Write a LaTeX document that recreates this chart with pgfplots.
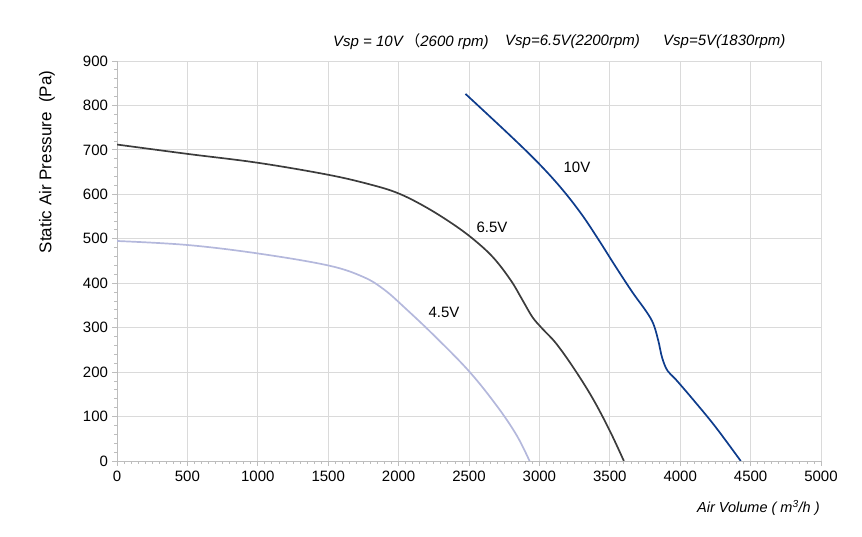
\documentclass[border=0pt]{standalone}
\usepackage{fontspec}
\setmainfont{Liberation Sans}
\newfontfamily\cjk{Noto Sans CJK SC}
\usepackage{pgfplots}
\pgfplotsset{compat=1.18}
\definecolor{navy}{HTML}{0E3C8C}
\definecolor{dgray}{HTML}{3C3C3C}
\definecolor{lav}{HTML}{B4B8DC}
\definecolor{gridc}{HTML}{DADADA}
\definecolor{axc}{HTML}{BDBDBD}
\begin{document}
\begin{tikzpicture}[x=1pt,y=1pt]
\path (0,0) rectangle (862,537);
\begin{axis}[
  at={(117pt,76pt)}, anchor=south west,
  scale only axis, width=704pt, height=400pt,
  xmin=0, xmax=5000, ymin=0, ymax=900,
  xtick={0,500,...,5000}, ytick={0,100,...,900},
  minor x tick num=9, minor y tick num=4,
  grid=major, major grid style={gridc, line width=0.9pt},
  axis line style={axc, line width=0.9pt},
  axis x line*=bottom, axis y line*=left,
  tick style={axc, line width=0.8pt},
  tick align=outside,
  major tick length=5pt, minor tick length=3pt,
  tick label style={font=\fontsize{15}{16}\selectfont, black},
  /pgf/number format/assume math mode=true,
  /pgf/number format/set thousands separator={},
  xticklabel style={yshift=-1pt},
  yticklabel style={xshift=-0.5pt},
]
\addplot[lav, line width=1.7pt, smooth, tension=0.6] coordinates {
(0,495) (500,486) (1000,467) (1500,440) (1750,414) (1900,385) (2050,343)
(2250,283) (2500,202) (2700,123) (2840,57) (2930,0)};
\addplot[dgray, line width=1.7pt, smooth, tension=0.6] coordinates {
(0,712) (500,691) (1000,671) (1500,644) (1800,622) (2000,602) (2200,570)
(2400,530) (2550,494) (2680,455) (2800,405) (2880,362) (2950,324) (3020,298)
(3120,264) (3250,206) (3380,140) (3500,68) (3600,0)};
\addplot[navy, line width=1.7pt, smooth, tension=0.6] coordinates {
(2475,826) (2800,730) (3000,668) (3160,612) (3300,555) (3420,498) (3540,438)
(3660,380) (3760,336) (3810,308) (3845,270) (3872,232) (3910,203) (3970,183)
(4100,135) (4250,77) (4430,0)};
\node[font=\fontsize{15}{16}\selectfont] at (axis cs:3267,661) {10V};
\node[font=\fontsize{15}{16}\selectfont] at (axis cs:2663,526) {6.5V};
\node[font=\fontsize{15}{16}\selectfont] at (axis cs:2322,335) {4.5V};
\end{axis}
\node[rotate=90, font=\fontsize{17}{18}\selectfont] at (47,375) {Static Air Pressure \ (Pa)};
\node[anchor=west, inner sep=0pt, font=\fontsize{14.5}{15}\selectfont\itshape] at (697,29) {Air Volume ( m\textsuperscript{3}/h )};
\node[anchor=west, inner sep=0pt, font=\fontsize{15}{16}\selectfont\itshape] at (333,495) {Vsp = 10V\,{\cjk （}2600 rpm)};
\node[anchor=west, inner sep=0pt, font=\fontsize{15}{16}\selectfont\itshape] at (505,495) {Vsp=6.5V(2200rpm)};
\node[anchor=west, inner sep=0pt, font=\fontsize{15}{16}\selectfont\itshape] at (663,495) {Vsp=5V(1830rpm)};
\end{tikzpicture}
\end{document}
